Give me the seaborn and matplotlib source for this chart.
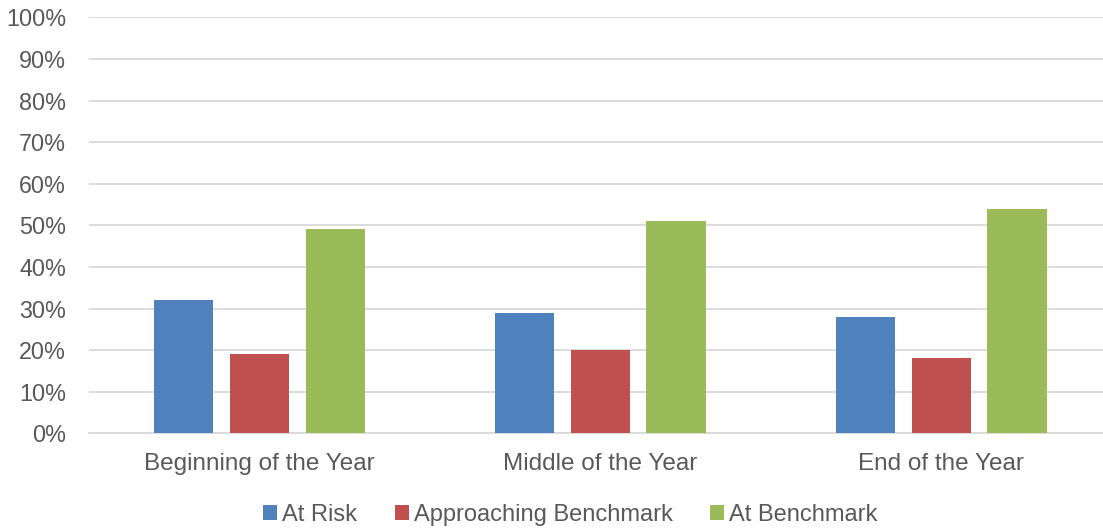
import matplotlib
matplotlib.use("Agg")
import matplotlib.pyplot as plt
import seaborn as sns
import pandas as pd
from matplotlib.ticker import FuncFormatter, MultipleLocator
from matplotlib.patches import Patch

categories = ["Beginning of the Year", "Middle of the Year", "End of the Year"]
series_names = ["At Risk", "Approaching Benchmark", "At Benchmark"]
at_risk = [32, 29, 28]
approaching = [19, 20, 18]
at_benchmark = [49, 51, 54]
colors = ["#4F81BD", "#C0504D", "#9BBB59"]

rows = []
for name, vals in zip(series_names, [at_risk, approaching, at_benchmark]):
    for c, v in zip(categories, vals):
        rows.append({"Period": c, "Level": name, "Value": v})
df = pd.DataFrame(rows)

sns.set_theme(style="white")
plt.rcParams["font.family"] = ["Liberation Sans", "DejaVu Sans"]

fig = plt.figure(figsize=(11.03, 5.29), dpi=100)
ax = fig.add_axes([89 / 1103, 1 - 433.3 / 529, 1 - 89 / 1103, (433.3 - 17.3) / 529])

sns.barplot(data=df, x="Period", y="Value", hue="Level", order=categories,
            hue_order=series_names, palette=colors, saturation=1,
            width=0.666, gap=0.217, ax=ax, legend=False, zorder=3, linewidth=0)

ax.set_ylim(0, 100)
ax.set_xlim(-0.5, 2.474)
ax.yaxis.set_major_locator(MultipleLocator(10))
ax.yaxis.set_major_formatter(FuncFormatter(lambda v, p: f"{int(v)}%"))
ax.yaxis.grid(True, color="#D9D9D9", linewidth=1.3, zorder=0)
ax.set_axisbelow(True)
for s in ["top", "right", "left"]:
    ax.spines[s].set_visible(False)
ax.spines["bottom"].set_color("#D9D9D9")
ax.spines["bottom"].set_linewidth(1.3)
ax.tick_params(axis="y", length=0, labelsize=16.8, labelcolor="#595959", pad=16.5)
ax.tick_params(axis="x", length=0, labelsize=17.5, labelcolor="#595959", pad=14.5)
ax.set_xlabel("")
ax.set_ylabel("")

handles = [Patch(facecolor=c, edgecolor="none") for c in colors]
leg = fig.legend(handles, series_names, loc="center", bbox_to_anchor=(0.517, 0.027),
                 ncol=3, frameon=False, fontsize=17, handlelength=0.6,
                 handleheight=0.6, handletextpad=0.2, columnspacing=1.6)
for t in leg.get_texts():
    t.set_color("#595959")

fig.savefig("out.png", dpi=100)
